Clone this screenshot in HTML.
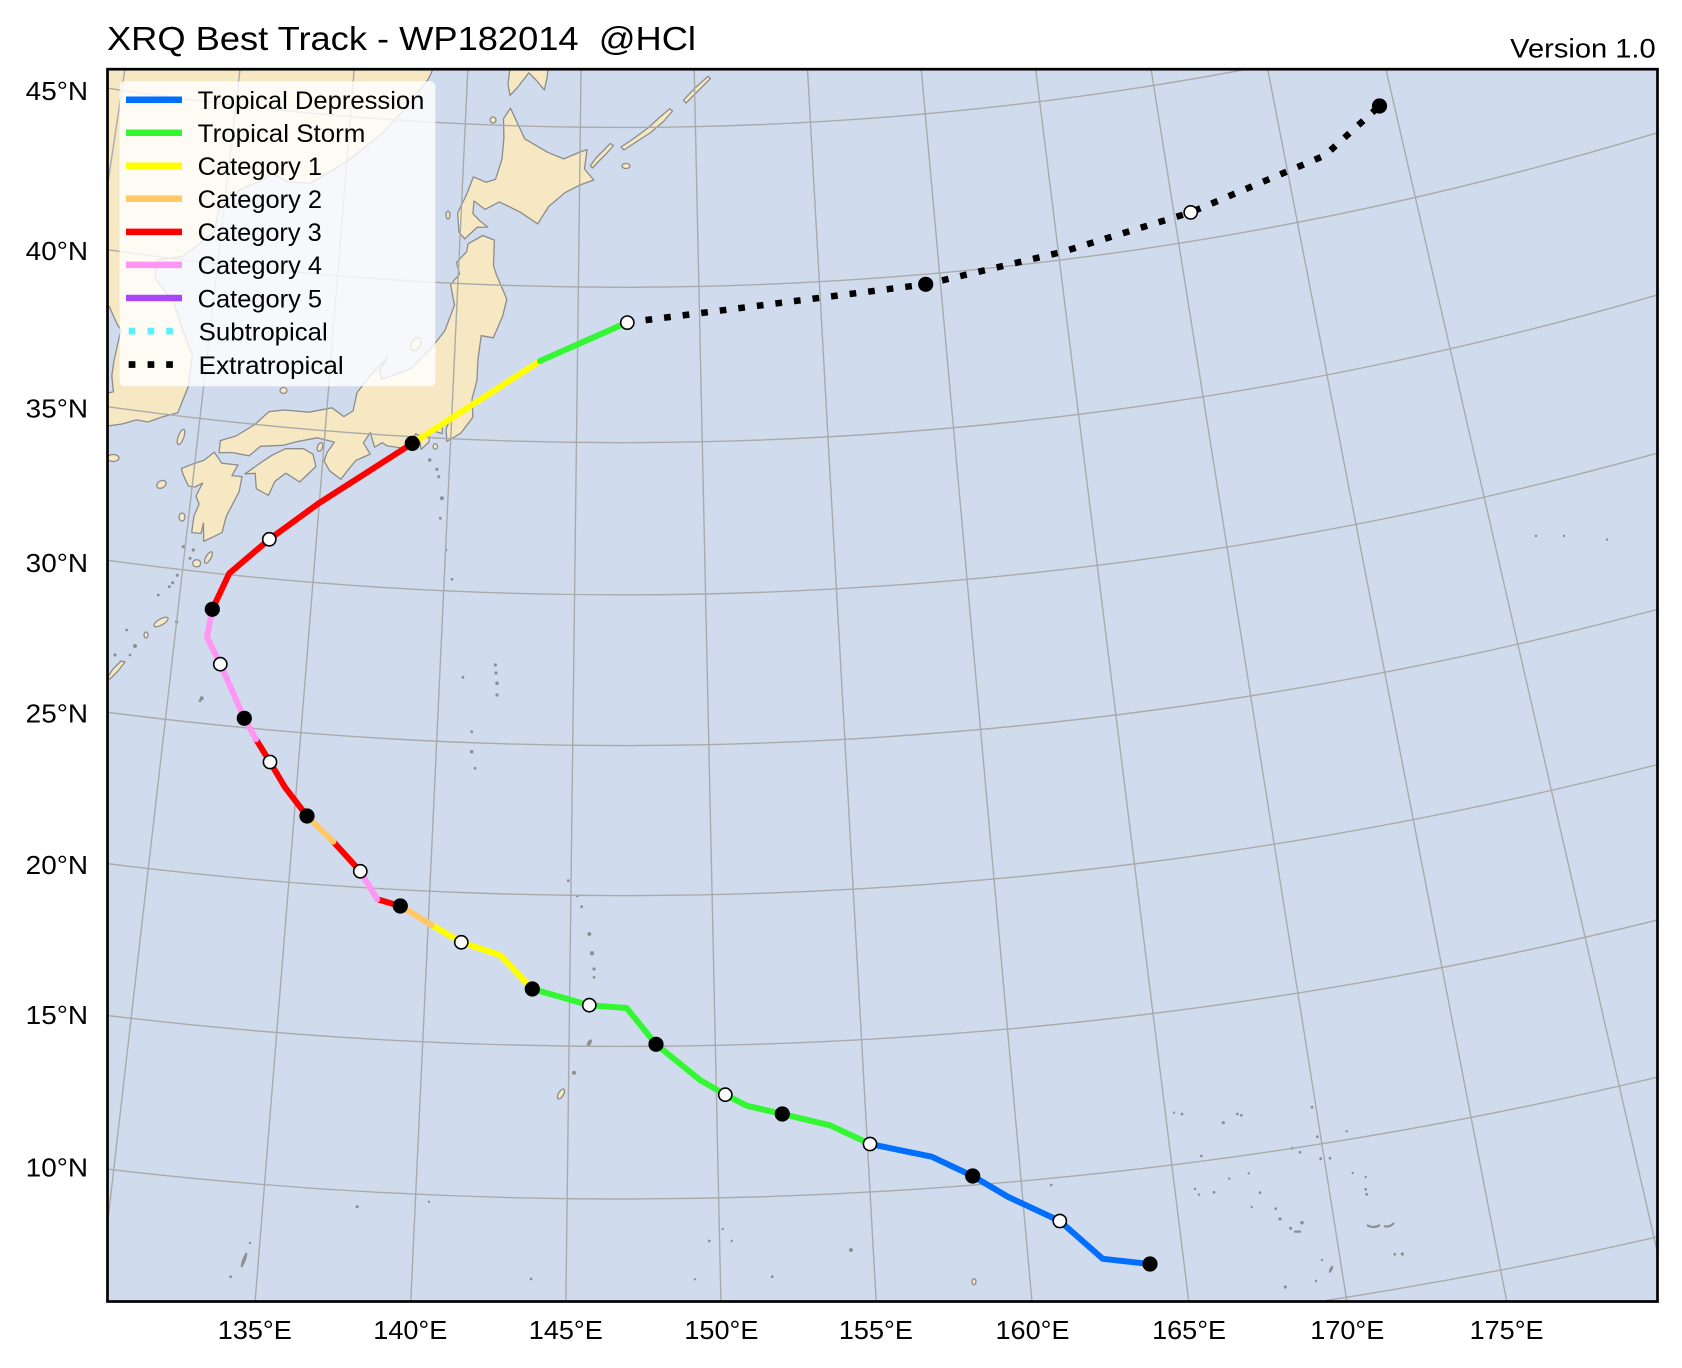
<!DOCTYPE html>
<html><head><meta charset="utf-8"><style>
html,body{margin:0;padding:0;background:#fff;overflow:hidden;width:1682px;height:1368px}
svg{display:block}
text{font-family:"Liberation Sans","DejaVu Sans",sans-serif;fill:#000}
</style></head><body>
<svg width="1682" height="1368" viewBox="0 0 1682 1368" xmlns="http://www.w3.org/2000/svg" overflow="hidden">
<defs><clipPath id="c"><rect x="107.5" y="69.2" width="1550" height="1232.3"/></clipPath></defs>
<rect x="0" y="0" width="1682" height="1368" fill="#fff"/>
<g clip-path="url(#c)">
<rect x="100" y="60" width="1570" height="1250" fill="#d0dcee"/>
<g fill="#f5e8c2" stroke="#8c8c8c" stroke-width="1.3" stroke-linejoin="round">
<path d="M100,60 L436,60 L433,69 L428.7,78.5 L408.9,104.1 L384,131.9 L346.8,161.6 L309.7,183.6 L286.3,181.3 L272.9,173.6 L262,180 L240.5,189.5 L219.5,206.4 L214.2,231.5 L198,245 L182.1,256.6 L157.4,259.8 L155,278.3 L173.9,302.6 L182.8,330.3 L192.3,355 L188.6,385.8 L177.8,412.8 L162,417 L148,422 L136.4,419.9 L122,424 L110,425.7 L100,427 L100,395 L113.4,391.8 L111.8,375.9 L114,360.5 L120.8,330.1 L116.7,323.3 L109.3,306.5 L100,300 Z"/>
<path d="M468.1,243.8 L482.7,235.5 L494.4,240.1 L493.5,265.7 L496.7,275.4 L506.8,299.3 L502.6,316.3 L493.3,337.8 L481.2,335.7 L478,359 L476.9,380.6 L472,398.9 L472.9,417.2 L461,432.9 L446.8,441.5 L446.1,429.1 L450.4,418.4 L442.6,424.2 L442.1,433.6 L429.7,429.8 L429,442.1 L421.1,449.4 L419.3,435.5 L415.7,433.7 L408.8,444.3 L404.8,448.4 L387.2,445.9 L382.3,442.7 L374.5,447.2 L370.4,432.5 L363.4,442.9 L370.2,454.1 L355.8,460.5 L347.5,470.6 L340.9,479.3 L329.6,470.8 L324.1,461.1 L327.2,452.2 L334.4,442.1 L317,437.8 L296.3,441.8 L283.4,445.3 L260.4,446.3 L249.2,455.8 L231.7,452.5 L219,452.7 L220.3,440.6 L236,436 L255,424.4 L268.8,411.7 L284.1,410 L309,412.2 L332,407.8 L343.9,416.6 L353,411 L357,392.6 L372,373.4 L387.9,357.4 L379.7,369.2 L381.5,379.3 L394.2,374.9 L412,368.1 L432.9,346 L444.7,331 L454.5,305.1 L450.6,284.7 L459.6,273.9 L456.5,262.5 L466.6,251.8 Z"/>
<path d="M510.5,108.2 L524.7,138.8 L547.5,152.2 L563.7,158.9 L580,152 L587,149.6 L584.5,169 L593.7,180 L580,185 L565.4,192.4 L548.7,206.5 L537.7,223.9 L520.3,212.2 L499.4,201.9 L485,209.4 L474,201 L472.9,213.7 L480,221 L487.8,227.1 L477.1,227.3 L464.7,238.9 L459,232.2 L457.6,213 L466.7,194.2 L473.4,176.9 L486,182.2 L495.5,179.4 L502,158.9 L503.9,138.1 L503.5,118.7 Z"/>
<path d="M214.3,452.1 L221.7,463.2 L238.1,465 L231.9,475.6 L242,476.6 L239.2,491.6 L226.3,516.2 L222,532.7 L203.6,541.4 L203.5,523 L201,533.5 L191.7,532.5 L194,515.8 L199.1,504.1 L196,496 L202.6,483.1 L195,487 L188.4,486.1 L183.2,474.8 L181.4,468.5 L193.5,463.7 L204,460.3 Z"/>
<path d="M313,454.2 L315.9,466.5 L299.7,482 L285.9,473.2 L274.9,481.3 L268.5,495.4 L256.3,488.7 L255.2,473.3 L245,473.8 L264.1,460.4 L272.3,455.1 L285.6,448.7 L303.3,448.6 Z"/>
<path d="M510.9,60 L508,84 L510,95.5 L517,88 L528.9,72.8 L536,80 L544.4,89.9 L547,78 L549,60 Z"/>
<path d="M590.3,165.7 L596,158 L604,150 L610.2,143.4 L613.5,145.5 L606,154 L598,162 L592.5,168 Z"/>
<path d="M621,147 L633,139 L648,128 L660,117 L669.8,108.8 L672.5,111 L664,121 L650,133 L636,142 L624,150 Z"/>
<path d="M683.4,100.2 L695,88 L708,76.4 L710.5,78.5 L698,91 L686,103 Z"/>
<ellipse cx="626" cy="166" rx="4" ry="2.5"/>
<path d="M107,678 L113,669 L121,661 L125,662 L118,671 L110,679 Z"/>
<ellipse cx="416" cy="344" rx="4.5" ry="7" transform="rotate(30 416 344)"/>
<ellipse cx="283.5" cy="390.5" rx="3.5" ry="3"/>
<ellipse cx="181" cy="437" rx="2.8" ry="8" transform="rotate(20 181 437)"/>
<ellipse cx="113" cy="458" rx="6" ry="3.5"/>
<ellipse cx="161.4" cy="484.4" rx="5" ry="3.5" transform="rotate(-30 161.4 484.4)"/>
<ellipse cx="182" cy="517" rx="3" ry="4"/>
<ellipse cx="320" cy="447" rx="2.5" ry="4.5" transform="rotate(20 320 447)"/>
<ellipse cx="493" cy="120" rx="3" ry="3"/>
<ellipse cx="448" cy="215" rx="2" ry="4"/>
<ellipse cx="435.3" cy="446.5" rx="2.2" ry="2.8"/>
<ellipse cx="208.5" cy="557.5" rx="2.5" ry="6.5" transform="rotate(30 208.5 557.5)"/>
<ellipse cx="196.7" cy="563.3" rx="4" ry="3.6"/>
<ellipse cx="161" cy="622" rx="8" ry="3" transform="rotate(-30 161 622)"/>
<ellipse cx="146" cy="635" rx="2" ry="3"/>
<ellipse cx="561" cy="1094" rx="2.5" ry="5.5" transform="rotate(30 561 1094)"/>
<ellipse cx="974" cy="1281.7" rx="2" ry="3"/>
</g>
<g fill="#8f8f8f">
<circle cx="183.3" cy="546.7" r="1.6"/><circle cx="193.3" cy="550" r="1.6"/><circle cx="190" cy="558.3" r="1.6"/>
<circle cx="172.7" cy="582.7" r="1.6"/><circle cx="169.3" cy="586.7" r="1.4"/><circle cx="177.3" cy="575.3" r="1.6"/>
<circle cx="158.3" cy="595" r="1.4"/><circle cx="176.7" cy="621.7" r="1.6"/><circle cx="135" cy="646" r="2"/>
<circle cx="115" cy="655" r="1.6"/><circle cx="126.7" cy="630" r="1.4"/><circle cx="130" cy="655" r="1.4"/>
<circle cx="201.7" cy="698.3" r="2"/><circle cx="200" cy="700.7" r="1.4"/>
<circle cx="429.7" cy="460" r="1.8"/><circle cx="437" cy="469.3" r="1.6"/><circle cx="438.7" cy="476.7" r="1.6"/>
<circle cx="442" cy="498.3" r="2"/><circle cx="440.3" cy="518.3" r="1.4"/><circle cx="446.3" cy="550" r="1.2"/><circle cx="452" cy="579.3" r="1.4"/>
<circle cx="495.3" cy="665" r="1.6"/><circle cx="496" cy="673" r="1.6"/><circle cx="497" cy="683.3" r="1.8"/><circle cx="497" cy="695" r="1.6"/><circle cx="463" cy="677.3" r="1.4"/>
<circle cx="471.7" cy="731.7" r="1.4"/><circle cx="471.7" cy="751.7" r="1.8"/><circle cx="475" cy="768.3" r="1.4"/>
<circle cx="568.3" cy="880.7" r="1.4"/><circle cx="577.3" cy="896" r="1.4"/><circle cx="581.7" cy="906.7" r="1.4"/>
<circle cx="589.3" cy="934" r="2"/><circle cx="592" cy="953.3" r="2.2"/><circle cx="594" cy="969" r="1.6"/><circle cx="594" cy="977.3" r="1.4"/>
<ellipse cx="589.3" cy="1043" rx="2" ry="4" transform="rotate(30 589.3 1043)"/><circle cx="574" cy="1072.7" r="2"/>
<circle cx="722.7" cy="1229" r="1.2"/><circle cx="709.3" cy="1241" r="1.4"/><circle cx="731.7" cy="1241" r="1.2"/><circle cx="851" cy="1250" r="2"/>
<circle cx="772.3" cy="1276.7" r="1.4"/><circle cx="695" cy="1279.3" r="1.2"/><circle cx="531" cy="1279" r="1.4"/>
<circle cx="429" cy="1201.7" r="1.2"/><circle cx="357.2" cy="1206.7" r="1.6"/>
<ellipse cx="244" cy="1260" rx="1.8" ry="8" transform="rotate(20 244 1260)"/><circle cx="230.6" cy="1276.7" r="1.4"/><circle cx="250" cy="1243" r="1.2"/>
<circle cx="1051.2" cy="1185" r="1.4"/>
<circle cx="1174" cy="1112.7" r="1.2"/><circle cx="1182" cy="1114" r="1.4"/><circle cx="1223.3" cy="1122.7" r="1.6"/>
<circle cx="1237.3" cy="1114" r="1.4"/><circle cx="1241.3" cy="1115.3" r="1.4"/><circle cx="1312" cy="1107.3" r="1.4"/>
<circle cx="1346.7" cy="1131.3" r="1.2"/><circle cx="1317.3" cy="1136.7" r="1.4"/><circle cx="1292.3" cy="1148.3" r="1.4"/>
<circle cx="1300" cy="1152.3" r="1.4"/><circle cx="1201.3" cy="1156" r="1.4"/><circle cx="1320.7" cy="1158.7" r="1.4"/>
<circle cx="1330" cy="1158.3" r="1.4"/><circle cx="1248.7" cy="1173.3" r="1.2"/><circle cx="1229.3" cy="1178.7" r="1.2"/>
<circle cx="1352.7" cy="1173" r="1.2"/><circle cx="1365.7" cy="1177" r="1.2"/><circle cx="1195" cy="1189" r="1.2"/>
<circle cx="1199" cy="1194.7" r="1.2"/><circle cx="1214" cy="1192.3" r="1.4"/><circle cx="1260" cy="1192.7" r="1.4"/>
<circle cx="1365.7" cy="1189.3" r="1.4"/><circle cx="1366.7" cy="1194.3" r="1.4"/><circle cx="1251.7" cy="1207" r="1.2"/>
<circle cx="1275.7" cy="1208.7" r="1.4"/><circle cx="1280" cy="1219" r="1.6"/><circle cx="1290.7" cy="1228.3" r="1.6"/>
<rect x="1294" y="1230.5" width="7" height="2.2"/><circle cx="1302" cy="1222.7" r="1.8"/>
<path d="M1367,1225 Q1373,1229 1380,1225" stroke="#8f8f8f" stroke-width="2.2" fill="none"/>
<path d="M1384,1226 Q1389,1228 1394,1223" stroke="#8f8f8f" stroke-width="2.2" fill="none"/>
<circle cx="1394.7" cy="1254.3" r="1.4"/><circle cx="1402.3" cy="1254" r="1.6"/><circle cx="1322" cy="1260" r="1.2"/>
<ellipse cx="1331" cy="1269.3" rx="1.5" ry="4" transform="rotate(25 1331 1269.3)"/><circle cx="1316" cy="1281" r="1.2"/><circle cx="1285.3" cy="1287" r="1.6"/>
<circle cx="1536" cy="536" r="1.2"/><circle cx="1564" cy="536" r="1.2"/><circle cx="1607" cy="539.6" r="1.2"/>
</g>
<g fill="none" stroke="#aaaaaa" stroke-width="1.4">
<path d="M100,1324.9 A4614.5 4614.5 0 0 0 1670,1233.9"/>
<path d="M100,1168.3 A4459 4459 0 0 0 1670,1074.1"/>
<path d="M100,1014.6 A4306.4 4306.4 0 0 0 1670,916.9"/>
<path d="M100,862.7 A4155.6 4155.6 0 0 0 1670,761.3"/>
<path d="M100,711.3 A4005.5 4005.5 0 0 0 1670,606"/>
<path d="M100,559.3 A3854.8 3854.8 0 0 0 1670,449.6"/>
<path d="M100,405.6 A3702.6 3702.6 0 0 0 1670,291.2"/>
<path d="M100,248.6 A3547.2 3547.2 0 0 0 1670,128.9"/>
<path d="M100,87 A3387.4 3387.4 0 0 0 1294.4,60"/>
<g transform="translate(622,-3260)">
<line x1="0" y1="3310" x2="0" y2="4617" transform="rotate(8.4925)"/>
<line x1="0" y1="3310" x2="0" y2="4597" transform="rotate(6.5455)"/>
<line x1="0" y1="3310" x2="0" y2="4581" transform="rotate(4.5986)"/>
<line x1="0" y1="3310" x2="0" y2="4571" transform="rotate(2.6517)"/>
<line x1="0" y1="3310" x2="0" y2="4567" transform="rotate(0.7048)"/>
<line x1="0" y1="3310" x2="0" y2="4568" transform="rotate(-1.2421)"/>
<line x1="0" y1="3310" x2="0" y2="4574" transform="rotate(-3.1890)"/>
<line x1="0" y1="3310" x2="0" y2="4585" transform="rotate(-5.1359)"/>
<line x1="0" y1="3310" x2="0" y2="4601" transform="rotate(-7.0829)"/>
<line x1="0" y1="3310" x2="0" y2="4623" transform="rotate(-9.0298)"/>
<line x1="0" y1="3310" x2="0" y2="4651" transform="rotate(-10.9767)"/>
<line x1="0" y1="3310" x2="0" y2="4684" transform="rotate(-12.9236)"/>
</g>
</g>
<g fill="none" stroke-width="6" stroke-linejoin="round" stroke-linecap="round">
<polyline stroke="#006eff" points="1150,1264 1102.7,1258.8 1059.8,1221 1008.3,1197 972.7,1176 931.7,1156.7 870,1144"/>
<polyline stroke="#33f733" points="870,1144 830,1125.3 782.3,1114 746.7,1105.7 725.3,1094.7 700,1080 656,1044.3 626.7,1008 589.3,1005.2 559,996.5 532.3,989"/>
<polyline stroke="#ffff00" points="532.3,989 500,955 461.3,942.3 431.7,925"/>
<polyline stroke="#ffc864" points="431.7,925 400.3,906"/>
<polyline stroke="#ff0000" points="400.3,906 377.3,899.3"/>
<polyline stroke="#ff96f4" points="377.3,899.3 360.3,871.3"/>
<polyline stroke="#ff0000" points="360.3,871.3 333.3,841.7"/>
<polyline stroke="#ffc864" points="333.3,841.7 307,816"/>
<polyline stroke="#ff0000" points="307,816 285,787.3 270,762 256,739.3"/>
<polyline stroke="#ff96f4" points="256,739.3 244.3,718.3 220.3,664 207,637.3 212.3,609.3"/>
<polyline stroke="#ff0000" points="212.3,609.3 229.3,573.3 269.3,539.3 318.7,503.3 412.3,443.4"/>
<polyline stroke="#ffff00" points="412.3,443.4 540,361"/>
<polyline stroke="#33f733" points="540,361 627,322.5"/>
<polyline stroke="#000" stroke-linecap="butt" stroke-width="6.5" stroke-dasharray="6.7 12" points="627,322.5 925.7,284.3 1062,252 1190.7,212.4 1324.8,155.5 1379.5,106"/>
</g>
<g fill="#000">
<circle cx="1150" cy="1264" r="7.6"/><circle cx="972.7" cy="1176" r="7.6"/><circle cx="782.3" cy="1114" r="7.6"/>
<circle cx="656" cy="1044.3" r="7.6"/><circle cx="532.3" cy="989" r="7.6"/><circle cx="400.3" cy="906" r="7.6"/>
<circle cx="307" cy="816" r="7.6"/><circle cx="244.3" cy="718.3" r="7.6"/><circle cx="212.3" cy="609.3" r="7.6"/>
<circle cx="412.3" cy="443.4" r="7.6"/><circle cx="925.7" cy="284.3" r="7.6"/><circle cx="1379.5" cy="106" r="7.6"/>
</g>
<g fill="#fff" stroke="#000" stroke-width="1.6">
<circle cx="1059.8" cy="1221" r="6.6"/><circle cx="870" cy="1144" r="6.6"/><circle cx="725.3" cy="1094.7" r="6.6"/>
<circle cx="589.3" cy="1005.2" r="6.6"/><circle cx="461.3" cy="942.3" r="6.6"/><circle cx="360.3" cy="871.3" r="6.6"/>
<circle cx="270" cy="762" r="6.6"/><circle cx="220.3" cy="664.2" r="6.6"/><circle cx="269.3" cy="539.3" r="6.6"/>
<circle cx="627.3" cy="322.6" r="6.6"/><circle cx="1190.7" cy="212.4" r="6.6"/>
</g>
</g>
<rect x="119.7" y="81.3" width="315.6" height="305" rx="5" ry="5" fill="#ffffff" fill-opacity="0.8"/>
<g stroke-width="6.5">
<line x1="126" y1="99.7" x2="182" y2="99.7" stroke="#006eff"/>
<line x1="126" y1="132.7" x2="182" y2="132.7" stroke="#33f733"/>
<line x1="126" y1="165.8" x2="182" y2="165.8" stroke="#ffff00"/>
<line x1="126" y1="198.8" x2="182" y2="198.8" stroke="#ffc864"/>
<line x1="126" y1="231.9" x2="182" y2="231.9" stroke="#ff0000"/>
<line x1="126" y1="264.9" x2="182" y2="264.9" stroke="#ff96f4"/>
<line x1="126" y1="298" x2="182" y2="298" stroke="#aa46fa"/>
</g>
<g fill="#5af0ff">
<rect x="128.7" y="327.8" width="6.7" height="6.7"/><rect x="147.6" y="327.8" width="6.7" height="6.7"/><rect x="166.2" y="327.8" width="6.7" height="6.7"/>
</g>
<g fill="#000">
<rect x="128.7" y="361.2" width="6.7" height="6.7"/><rect x="147.6" y="361.2" width="6.7" height="6.7"/><rect x="166.2" y="361.2" width="6.7" height="6.7"/>
</g>
<g font-size="25">
<text x="197.7" y="109" textLength="226.7" lengthAdjust="spacingAndGlyphs">Tropical Depression</text>
<text x="197.7" y="142" textLength="167.7" lengthAdjust="spacingAndGlyphs">Tropical Storm</text>
<text x="197.7" y="175.1" textLength="124.3" lengthAdjust="spacingAndGlyphs">Category 1</text>
<text x="197.7" y="208.1" textLength="124.3" lengthAdjust="spacingAndGlyphs">Category 2</text>
<text x="197.7" y="241.2" textLength="124" lengthAdjust="spacingAndGlyphs">Category 3</text>
<text x="197.7" y="274.2" textLength="124.3" lengthAdjust="spacingAndGlyphs">Category 4</text>
<text x="197.7" y="307.3" textLength="124.3" lengthAdjust="spacingAndGlyphs">Category 5</text>
<text x="198.7" y="340.5" textLength="129" lengthAdjust="spacingAndGlyphs">Subtropical</text>
<text x="198.7" y="373.8" textLength="145" lengthAdjust="spacingAndGlyphs">Extratropical</text>
</g>
<rect x="107.5" y="69.2" width="1550" height="1232.3" fill="none" stroke="#000" stroke-width="2.7"/>
<text x="107" y="50" font-size="33" textLength="589" lengthAdjust="spacingAndGlyphs" style="white-space:pre">XRQ Best Track - WP182014  @HCl</text>
<text x="1655.7" y="57.3" font-size="26.5" text-anchor="end" textLength="145.5" lengthAdjust="spacingAndGlyphs">Version 1.0</text>
<g font-size="25.5" text-anchor="end">
<text x="88" y="100" textLength="62.3" lengthAdjust="spacingAndGlyphs">45°N</text>
<text x="88" y="260" textLength="62.3" lengthAdjust="spacingAndGlyphs">40°N</text>
<text x="88" y="417.7" textLength="62.3" lengthAdjust="spacingAndGlyphs">35°N</text>
<text x="88" y="572" textLength="62.3" lengthAdjust="spacingAndGlyphs">30°N</text>
<text x="88" y="722.5" textLength="62.3" lengthAdjust="spacingAndGlyphs">25°N</text>
<text x="88" y="873.8" textLength="62.3" lengthAdjust="spacingAndGlyphs">20°N</text>
<text x="88" y="1024" textLength="62.3" lengthAdjust="spacingAndGlyphs">15°N</text>
<text x="88" y="1176.7" textLength="62.3" lengthAdjust="spacingAndGlyphs">10°N</text>
</g>
<g font-size="25.5" text-anchor="middle">
<text x="254.8" y="1339" textLength="74" lengthAdjust="spacingAndGlyphs">135°E</text>
<text x="410.3" y="1339" textLength="74" lengthAdjust="spacingAndGlyphs">140°E</text>
<text x="565.8" y="1339" textLength="74" lengthAdjust="spacingAndGlyphs">145°E</text>
<text x="721.4" y="1339" textLength="74" lengthAdjust="spacingAndGlyphs">150°E</text>
<text x="875.9" y="1339" textLength="74" lengthAdjust="spacingAndGlyphs">155°E</text>
<text x="1032.5" y="1339" textLength="74" lengthAdjust="spacingAndGlyphs">160°E</text>
<text x="1189.1" y="1339" textLength="74" lengthAdjust="spacingAndGlyphs">165°E</text>
<text x="1347.3" y="1339" textLength="74" lengthAdjust="spacingAndGlyphs">170°E</text>
<text x="1506.6" y="1339" textLength="74" lengthAdjust="spacingAndGlyphs">175°E</text>
</g>
</svg>
</body></html>
